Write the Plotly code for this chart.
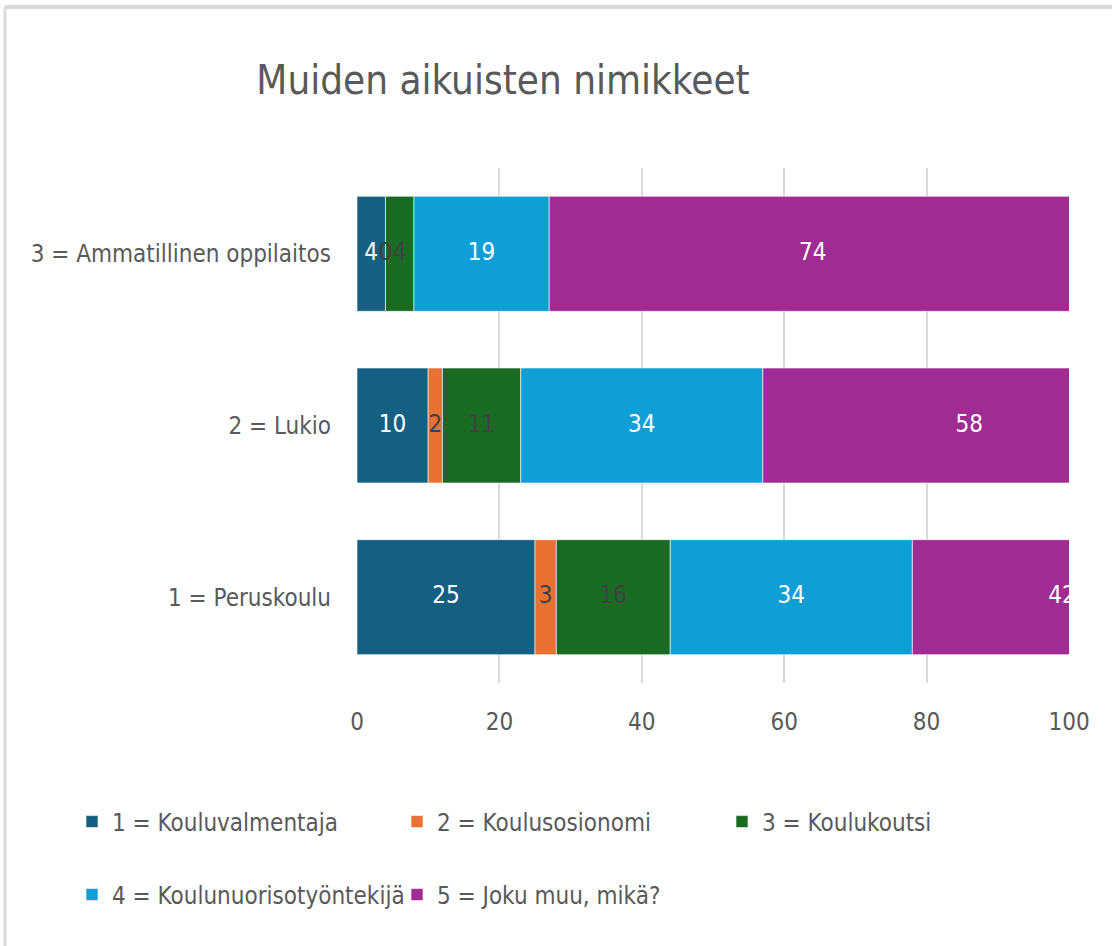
import numpy as np
import plotly.graph_objects as go

categories = ["1 = Peruskoulu", "2 = Lukio", "3 = Ammatillinen oppilaitos"]
series_names = ["1 = Kouluvalmentaja", "2 = Koulusosionomi", "3 = Koulukoutsi",
                "4 = Koulunuorisotyöntekijä", "5 = Joku muu, mikä?"]
s1 = [25, 10, 4]
s2 = [3, 2, 0]
s3 = [16, 11, 4]
s4 = [34, 34, 19]
s5 = [42, 58, 74]
x_ticks = [0, 20, 40, 60, 80, 100]

colors = ["#156082", "#E97132", "#196B24", "#0F9ED5", "#A02B93"]
label_colors = ["#FFFFFF", "#404040", "#404040", "#FFFFFF", "#FFFFFF"]
FONT = "Liberation Sans Narrow, DejaVu Sans Condensed, Roboto Condensed, Arial Narrow, sans-serif"
GRAY = "#595959"
FS = 24

W, H = 1112, 946
L, R, T, B = 357, 1069, 168, 683

def px_x(p):
    return (p - L) / (R - L)

def px_y(p):
    return (B - p) / (B - T)

fig = go.Figure()
all_series = [s1, s2, s3, s4, s5]
cum = np.zeros(len(categories))
for i, (name, vals) in enumerate(zip(series_names, all_series)):
    vals = np.array(vals, dtype=float)
    fig.add_trace(go.Bar(
        y=categories, x=vals, base=cum.copy(), orientation="h", name=name,
        marker=dict(color=colors[i], line=dict(color="white", width=0.6)),
        legend="legend" if i < 3 else "legend2",
        hoverinfo="skip",
    ))
    fig.add_trace(go.Scatter(
        y=categories, x=cum + vals / 2, mode="text",
        text=[str(int(v)) for v in vals],
        textfont=dict(family=FONT, size=FS, color=label_colors[i]),
        showlegend=False, cliponaxis=True, hoverinfo="skip",
    ))
    cum = cum + vals

legend_common = dict(orientation="h", xanchor="left", yanchor="middle",
                     entrywidth=280, entrywidthmode="pixels", bgcolor="rgba(0,0,0,0)",
                     font=dict(family=FONT, size=FS, color=GRAY))

fig.update_layout(
    width=W, height=H,
    barmode="overlay", bargap=0.33,
    paper_bgcolor="white", plot_bgcolor="white",
    margin=dict(l=L, r=W - R, t=T, b=H - B, pad=0),
    font=dict(family=FONT, color=GRAY, size=FS),
    title=dict(text="Muiden aikuisten nimikkeet", x=503 / W, xanchor="center",
               y=1 - 80 / H, yanchor="middle",
               font=dict(family=FONT, size=40, color=GRAY)),
    xaxis=dict(range=[0, 100], tickvals=x_ticks, showgrid=True, gridcolor="#D9D9D9",
               gridwidth=2, zeroline=False, showline=False, automargin=False,
               tickfont=dict(size=FS, color=GRAY), ticklabelstandoff=22),
    yaxis=dict(categoryorder="array", categoryarray=categories, showgrid=False,
               zeroline=False, showline=False, automargin=False,
               tickfont=dict(size=FS, color=GRAY), ticklabelstandoff=25),
    legend=dict(x=px_x(72), y=px_y(822), **legend_common),
    legend2=dict(x=px_x(72), y=px_y(895), **legend_common),
    shapes=[
        dict(type="line", xref="paper", yref="paper", x0=px_x(5), x1=px_x(W), y0=px_y(7), y1=px_y(7),
             line=dict(color="#D9D9D9", width=4)),
        dict(type="line", xref="paper", yref="paper", x0=px_x(5), x1=px_x(5), y0=px_y(7), y1=px_y(H),
             line=dict(color="#D9D9D9", width=3)),
    ],
)

fig.write_html("out.html", config={"displayModeBar": False},
               post_script="document.body.style.margin='0px';document.body.style.overflow='hidden';")
